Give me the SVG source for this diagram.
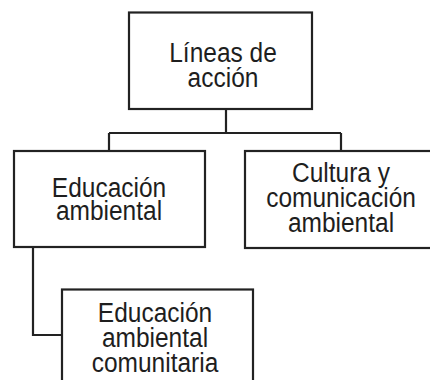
<svg xmlns="http://www.w3.org/2000/svg" width="430" height="380" viewBox="0 0 430 380">
<style>
.box{fill:#fff;stroke:#222;stroke-width:2.2}
.lbl{font-family:"Liberation Sans",Arial,sans-serif;font-size:28px;fill:#1e1e1e;text-anchor:middle}
.conn{fill:none;stroke:#222;stroke-width:2.2}
</style>
<rect width="430" height="380" fill="#fff"/>
<g id="connectors">
<path class="conn" d="M226,109 V133 M109,133 H341 M109,133 V151 M341,133 V151"/>
<path class="conn" d="M33,247 V335 H62"/>
</g>
<g id="lineas">
<rect class="box" x="129" y="12.5" width="183" height="96.5"/>
<text class="lbl" transform="translate(223 0) scale(0.875 1)"><tspan x="0" y="62">Líneas de</tspan><tspan x="0" y="87">acción</tspan></text>
</g>
<g id="educacion">
<rect class="box" x="14" y="151" width="191" height="96"/>
<text class="lbl" transform="translate(109 0) scale(0.875 1)"><tspan x="0" y="197">Educación</tspan><tspan x="0" y="220">ambiental</tspan></text>
</g>
<g id="cultura">
<rect class="box" x="245" y="151" width="195" height="97"/>
<text class="lbl" transform="translate(341 0) scale(0.875 1)"><tspan x="0" y="182">Cultura y</tspan><tspan x="0" y="207">comunicación</tspan><tspan x="0" y="232">ambiental</tspan></text>
</g>
<g id="comunitaria">
<rect class="box" x="62" y="289.5" width="191" height="110"/>
<text class="lbl" transform="translate(155 0) scale(0.875 1)"><tspan x="0" y="322">Educación</tspan><tspan x="0" y="347">ambiental</tspan><tspan x="0" y="372">comunitaria</tspan></text>
</g>
</svg>
